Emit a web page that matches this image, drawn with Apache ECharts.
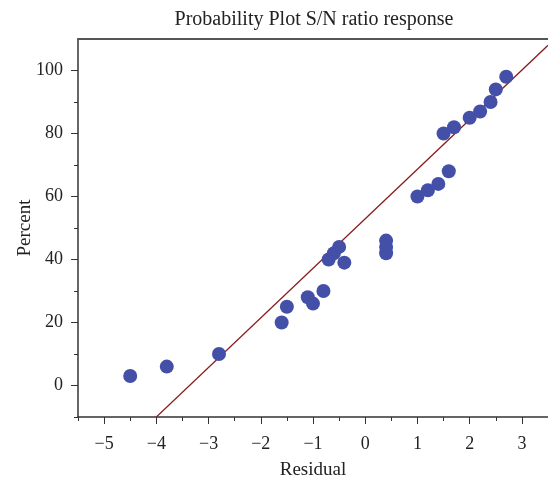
<!DOCTYPE html>
<html>
<head>
<meta charset="utf-8">
<script src="https://cdn.jsdelivr.net/npm/echarts@6/dist/echarts.min.js"></script>
<style>
  html, body { margin: 0; padding: 0; background: #fff; }
  #chart { width: 548px; height: 481px; }
</style>
</head>
<body>
<div id="chart"></div>
<script>
// residuals vs percent
var residual = [-4.5, -3.8, -2.8, -1.6, -1.5, -1.1, -1.0, -0.8, -0.7, -0.6, -0.5, -0.4,
  0.4, 0.4, 0.4, 1.0, 1.2, 1.4, 1.6, 1.5, 1.7, 2.0, 2.2, 2.4, 2.5, 2.7]
var percent = [3, 6, 10, 20, 25, 28, 26, 30, 40, 42, 44, 39,
  46, 44, 42, 60, 62, 64, 68, 80, 82, 85, 87, 90, 94, 98]
// reference line end points
var fitX = [-4.0, 3.5]
var fitY = [-10, 108]

var xMajor = [-5, -4, -3, -2, -1, 0, 1, 2, 3]
var xMinor = [-5.5, -4.5, -3.5, -2.5, -1.5, -0.5, 0.5, 1.5, 2.5, 3.5]
var yMajor = [0, 20, 40, 60, 80, 100]
var yMinor = [-10, 10, 30, 50, 70, 90]

var serif = '"Liberation Serif", "DejaVu Serif", serif'
var axisColor = '#333'

var chart = echarts.init(document.getElementById('chart'))

function minus(v) {
  return String(v).replace('-', '\u2212')
}

chart.setOption({
  animation: false,
  title: {
    text: 'Probability Plot S/N ratio response',
    left: 309,
    textAlign: 'center',
    top: 5,
    textStyle: { fontFamily: serif, fontWeight: 'normal', fontSize: 20, color: '#222' }
  },
  grid: { left: 78, top: 39, right: 0, bottom: 64, outerBoundsMode: 'none' },
  xAxis: [
    {
      type: 'value', min: -5.5, max: 3.5,
      name: 'Residual', nameLocation: 'middle', nameGap: 44,
      nameTextStyle: { fontFamily: serif, fontSize: 19, color: '#222' },
      axisLine: { show: true, onZero: false, lineStyle: { color: axisColor, width: 1.5 } },
      axisTick: { show: true, customValues: xMajor, length: 7, lineStyle: { color: axisColor } },
      axisLabel: { customValues: xMajor, margin: 18, fontFamily: serif, fontSize: 18, color: '#222', formatter: minus },
      splitLine: { show: false }
    },
    {
      type: 'value', min: -5.5, max: 3.5, position: 'bottom',
      axisLine: { show: false, onZero: false },
      axisTick: { show: true, customValues: xMinor, length: 4, lineStyle: { color: axisColor } },
      axisLabel: { show: false },
      splitLine: { show: false }
    },
    {
      type: 'value', min: -5.5, max: 3.5, position: 'top',
      axisLine: { show: true, onZero: false, lineStyle: { color: '#555', width: 2 } },
      axisTick: { show: false },
      axisLabel: { show: false },
      splitLine: { show: false }
    }
  ],
  yAxis: [
    {
      type: 'value', min: -10, max: 110,
      name: 'Percent', nameLocation: 'middle', nameGap: 43, nameMoveOverlap: false,
      nameTextStyle: { fontFamily: serif, fontSize: 19, color: '#222' },
      axisLine: { show: true, onZero: false, lineStyle: { color: axisColor, width: 1.5 } },
      axisTick: { show: true, customValues: yMajor, length: 7, lineStyle: { color: axisColor } },
      axisLabel: { customValues: yMajor, margin: 15, fontFamily: serif, fontSize: 18, color: '#222' },
      splitLine: { show: false }
    },
    {
      type: 'value', min: -10, max: 110, position: 'left',
      axisLine: { show: false, onZero: false },
      axisTick: { show: true, customValues: yMinor, length: 4, lineStyle: { color: axisColor } },
      axisLabel: { show: false },
      splitLine: { show: false }
    }
  ],
  series: [
    {
      type: 'line',
      data: fitX.map(function (x, i) { return [x, fitY[i]] }),
      symbol: 'none',
      lineStyle: { color: '#8b1c1c', width: 1.2 },
      z: 1
    },
    {
      type: 'scatter',
      data: residual.map(function (x, i) { return [x, percent[i]] }),
      symbolSize: 14,
      itemStyle: { color: '#4450a8', opacity: 1 },
      z: 2
    }
  ]
})
</script>
</body>
</html>
